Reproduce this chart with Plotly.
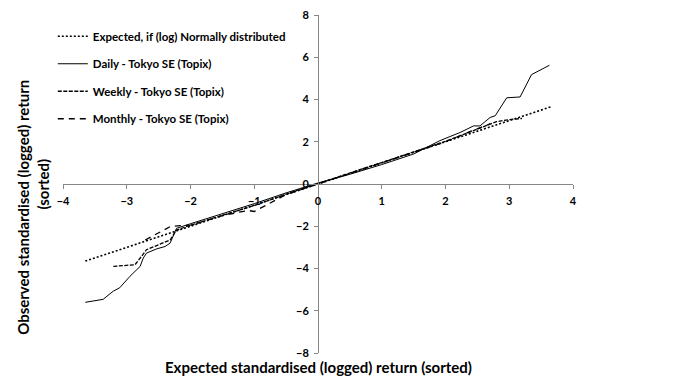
import plotly.graph_objects as go

# Data (Q-Q plot of standardised logged returns)
expected_x = [-3.65, 3.65]
expected_y = [-3.65, 3.65]

daily_x = [-3.65, -3.37, -3.21, -3.11, -2.95, -2.87, -2.79, -2.74, -2.69, -2.53, -2.40, -2.32,
           -2.27, -2.22, -2.00, -1.50, -1.00, -0.50, 0.00, 0.50, 1.00, 1.50, 1.91, 2.23, 2.44,
           2.54, 2.70, 2.78, 2.96, 3.17, 3.35, 3.63]
daily_y = [-5.60, -5.46, -5.07, -4.91, -4.37, -4.13, -3.90, -3.50, -3.27, -3.07, -2.96, -2.80,
           -2.49, -2.10, -1.88, -1.42, -0.93, -0.42, 0.05, 0.46, 0.92, 1.42, 2.05, 2.44, 2.75,
           2.75, 3.15, 3.23, 4.08, 4.12, 5.18, 5.62]

weekly_x = [-3.21, -2.87, -2.77, -2.69, -2.48, -2.32, -2.22, -2.00, -1.50, -1.00, -0.50, 0.00,
            0.50, 1.00, 1.50, 2.00, 2.50, 2.80, 3.00, 3.20]
weekly_y = [-3.90, -3.82, -3.43, -3.11, -2.85, -2.65, -2.18, -1.95, -1.48, -1.02, -0.48, 0.02,
            0.52, 1.00, 1.50, 2.02, 2.60, 2.95, 3.05, 3.10]

monthly_x = [-2.71, -2.56, -2.32, -2.16, -2.00, -1.50, -1.10, -1.00, -0.50, 0.00, 0.50, 1.00,
             1.50, 2.00, 2.40, 2.70]
monthly_y = [-2.65, -2.41, -2.02, -1.97, -1.95, -1.50, -1.25, -1.30, -0.50, 0.00, 0.50, 1.00,
             1.50, 2.00, 2.50, 2.85]

series_names = ["Expected, if (log) Normally distributed", "Daily - Tokyo SE (Topix)",
                "Weekly - Tokyo SE (Topix)", "Monthly - Tokyo SE (Topix)"]

x_ticks = [-4, -3, -2, -1, 0, 1, 2, 3, 4]
y_ticks = [-8, -6, -4, -2, 0, 2, 4, 6, 8]

x_title = "Expected standardised (logged) return (sorted)"
y_title_1 = "Observed standardised (logged) return"
y_title_2 = "(sorted)"

FONT = "Lato"
fig = go.Figure()

styles = [dict(dash="2px,2px", width=1.6), dict(dash="solid", width=1.0),
          dict(dash="4px,1.5px", width=1.3), dict(dash="6px,5px", width=1.3)]
datasets = [(expected_x, expected_y), (daily_x, daily_y), (weekly_x, weekly_y), (monthly_x, monthly_y)]

for i, (name, (xs, ys), st) in enumerate(zip(series_names, datasets, styles)):
    fig.add_trace(go.Scatter(x=xs, y=ys, mode="lines", name=name, legendgroup=f"g{i}",
                             line=dict(color="black", width=st["width"], dash=st["dash"])))

axis_common = dict(showgrid=False, zeroline=False, showline=True, linecolor="#868686",
                   linewidth=1, ticks="outside", ticklen=4, tickcolor="#868686",
                   automargin=False, ticklabeloverflow="allow", ticklabelstandoff=3,
                   tickfont=dict(family=FONT, size=11, color="black", weight="bold"))

title_font = dict(family=FONT, size=15, color="black", weight="bold")

fig.update_layout(
    width=683, height=386,
    margin=dict(l=55, r=118, t=7, b=41, autoexpand=False),
    paper_bgcolor="white", plot_bgcolor="white",
    xaxis=dict(range=[-4, 4], tickvals=x_ticks, anchor="free", position=0.5, **axis_common),
    yaxis=dict(range=[-8, 8], tickvals=y_ticks, anchor="free", position=0.5, domain=[0, 1],
               **axis_common),
    showlegend=True,
    legend=dict(x=-0.02, y=0.98, xanchor="left", yanchor="top", traceorder="grouped",
                tracegroupgap=8.5, bgcolor="rgba(0,0,0,0)",
                font=dict(family=FONT, size=11.5, color="black", weight="bold")),
    annotations=[
        dict(text=x_title, xref="paper", yref="paper", x=0.5, y=-0.04, yanchor="middle",
             showarrow=False, font=title_font),
        dict(text=y_title_1, xref="paper", yref="paper", x=-0.08, y=0.43, textangle=-90,
             showarrow=False, xanchor="center", yanchor="middle", font=title_font),
        dict(text=y_title_2, xref="paper", yref="paper", x=-0.04, y=0.5, textangle=-90,
             showarrow=False, xanchor="center", yanchor="middle", font=title_font),
    ],
)

fig.write_html("out.html")
